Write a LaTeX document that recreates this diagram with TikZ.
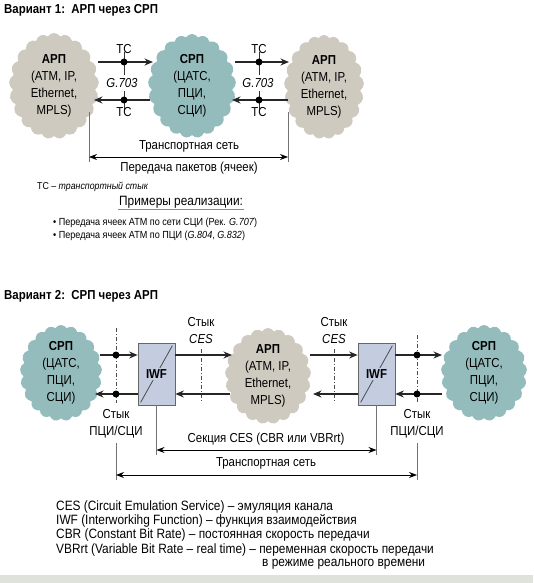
\documentclass[tikz,border=0pt]{standalone}
\usepackage{fontspec}
\setmainfont{Liberation Sans}[FakeStretch=0.88]
\usepackage{tikz}
\usetikzlibrary{arrows.meta,positioning,shapes.symbols}
\definecolor{cloudgrey}{RGB}{206,202,192}
\definecolor{cloudteal}{RGB}{148,188,188}
\definecolor{iwffill}{RGB}{196,204,224}
\definecolor{scanband}{RGB}{222,226,218}
\tikzset{
cloudnet/.style={cloud, cloud puffs=21, cloud puff arc=120, cloud ignores aspect, inner sep=0pt, align=center, font=\fontsize{13}{16.8}\selectfont},
greycloud/.style={cloudnet, fill=cloudgrey},
tealcloud/.style={cloudnet, fill=cloudteal},
link/.style={line width=1.2pt, draw=black!85, -{Stealth[length=8.5pt,width=7pt]}},
junction/.style={circle, fill=black, inner sep=0pt, minimum size=7pt},
tick/.style={line width=0.9pt, draw=black!80},
dashdot/.style={line width=0.8pt, draw=black!70, dash pattern=on 4pt off 2pt on 1pt off 2pt},
dimline/.style={line width=0.7pt, draw=black!55},
dimarrow/.style={line width=0.8pt, {Stealth[length=8pt,width=6pt]}-{Stealth[length=8pt,width=6pt]}},
iwfbox/.style={draw=black!60, line width=0.7pt, fill=iwffill, minimum width=37pt, minimum height=62pt},
lbl/.style={inner sep=1pt, font=\fontsize{13}{15}\selectfont},
heading/.style={inner sep=0pt, anchor=west, font=\fontsize{13}{15}\selectfont\bfseries},
caption/.style={inner sep=0pt, anchor=west, font=\fontsize{13.5}{15}\selectfont}
}
\begin{document}
\begin{tikzpicture}[x=1pt,y=-1pt]
\useasboundingbox (0,0) rectangle (533,583);
\fill[scanband] (0,575) rectangle (533,583);

% variant 1
\node[heading] (title1) at (4,10) {Вариант 1:\ \ АРП через СРП};

\node[greycloud, minimum width=90pt, minimum height=106pt] (arpL) at (54,86) {\textbf{АРП}\\(ATM, IP,\\Ethernet,\\MPLS)};
\node[tealcloud, minimum width=88pt, minimum height=104pt] (srpM) at (192,86) {\textbf{СРП}\\(ЦАТС,\\ПЦИ,\\СЦИ)};
\node[greycloud, minimum width=80pt, minimum height=104pt] (arpR) at (324,87) {\textbf{АРП}\\(ATM, IP,\\Ethernet,\\MPLS)};

\coordinate (tcLt) at (124,52);
\coordinate (tcLb) at (124,111);
\coordinate (tcRt) at (259,52);
\coordinate (tcRb) at (259,111);
\draw[tick] (tcLt) -- (tcLb);
\draw[tick] (tcRt) -- (tcRb);

\coordinate (fwd1s) at (98,62);
\coordinate (fwd1e) at (153,62);
\coordinate (bwd1s) at (150,100);
\coordinate (bwd1e) at (94,100);
\coordinate (fwd2s) at (235,62);
\coordinate (fwd2e) at (289,62);
\coordinate (bwd2s) at (288,100);
\coordinate (bwd2e) at (232,100);
\draw[link] (fwd1s) -- (fwd1e);
\draw[link] (bwd1s) -- (bwd1e);
\draw[link] (fwd2s) -- (fwd2e);
\draw[link] (bwd2s) -- (bwd2e);

\node[junction] (jL1) at (124,62) {};
\node[junction] (jL2) at (124,100) {};
\node[junction] (jR1) at (259,62) {};
\node[junction] (jR2) at (259,100) {};
\node[lbl, above=3pt of jL1] (tcL1) {ТС};
\node[lbl, below=3pt of jL2] (tcL2) {ТС};
\node[lbl, above=3pt of jR1] (tcR1) {ТС};
\node[lbl, below=3pt of jR2] (tcR2) {ТС};
\node[lbl, fill=white, inner sep=3pt] (g703L) at (122,83) {\textit{G.703}};
\node[lbl, fill=white, inner sep=3pt] (g703R) at (258,83) {\textit{G.703}};

\coordinate (trA1) at (89,112);
\coordinate (trA2) at (89,162);
\coordinate (trB1) at (288,112);
\coordinate (trB2) at (288,162);
\draw[dimline] (trA1) -- (trA2);
\draw[dimline] (trB1) -- (trB2);
\coordinate (trA) at (89,157);
\coordinate (trB) at (288,157);
\draw[dimarrow] (trA) -- (trB);
\node[lbl] (net1) at (189,146) {Транспортная сеть};
\node[lbl] (pkt) at (189,168) {Передача пакетов (ячеек)};

\node[inner sep=0pt, anchor=west, font=\fontsize{10}{12}\selectfont] (tcnote) at (37,187) {ТС – \textit{транспортный стык}};

\node[inner sep=1pt, anchor=west, font=\fontsize{13.5}{15}\selectfont] (examples) at (118,202) {Примеры реализации:};
\draw[black!45, line width=0.7pt] (examples.south west) -- (examples.south east);
\node[caption, font=\fontsize{10.3}{12}\selectfont] (ex1) at (53,223) {\textbullet\ Передача ячеек АТМ по сети СЦИ (Рек. \textit{G.707})};
\node[caption, font=\fontsize{10.3}{12}\selectfont] (ex2) at (53,235.5) {\textbullet\ Передача ячеек АТМ по ПЦИ (\textit{G.804}, \textit{G.832})};

% variant 2
\node[heading] (title2) at (4,296) {Вариант 2:\ \ СРП через АРП};

\node[tealcloud, minimum width=82pt, minimum height=96pt] (srpL) at (61,373) {\textbf{СРП}\\(ЦАТС,\\ПЦИ,\\СЦИ)};
\node[greycloud, minimum width=86pt, minimum height=96pt] (arpM) at (268,376) {\textbf{АРП}\\(ATM, IP,\\Ethernet,\\MPLS)};
\node[tealcloud, minimum width=86pt, minimum height=96pt] (srpR) at (484,373) {\textbf{СРП}\\(ЦАТС,\\ПЦИ,\\СЦИ)};

\node[iwfbox] (iwfL) at (156.5,374) {};
\node[iwfbox] (iwfR) at (376.5,374) {};
\draw[black!70, line width=0.8pt] ([shift={(3,-3)}]iwfL.south west) -- ([shift={(-3,3)}]iwfL.north east);
\draw[black!70, line width=0.8pt] ([shift={(3,-3)}]iwfR.south west) -- ([shift={(-3,3)}]iwfR.north east);
\node[fill=iwffill, inner sep=2pt, font=\fontsize{13}{15}\selectfont\bfseries] (iwfLtxt) at (iwfL) {IWF};
\node[fill=iwffill, inner sep=2pt, font=\fontsize{13}{15}\selectfont\bfseries] (iwfRtxt) at (iwfR) {IWF};

\coordinate (pdhLt) at (116,328);
\coordinate (pdhLb) at (116,403);
\coordinate (cesLt) at (201,349);
\coordinate (cesLb) at (201,403);
\coordinate (cesRt) at (334,349);
\coordinate (cesRb) at (334,403);
\coordinate (pdhRt) at (417,335);
\coordinate (pdhRb) at (417,403);
\draw[dashdot] (pdhLt) -- (pdhLb);
\draw[dashdot] (cesLt) -- (cesLb);
\draw[dashdot] (cesRt) -- (cesRb);
\draw[dashdot] (pdhRt) -- (pdhRb);

\coordinate (u1) at (100,355);
\coordinate (u2) at (232,355);
\coordinate (u3) at (310,355);
\coordinate (u4) at (442,355);
\coordinate (d1) at (95,394);
\coordinate (d2) at (230,394);
\coordinate (d3) at (313,394);
\coordinate (d4) at (442,394);
\draw[link] (u1) -- (iwfL.west |- u1);
\draw[link] (iwfL.east |- u2) -- (u2);
\draw[link] (u3) -- (iwfR.west |- u3);
\draw[link] (iwfR.east |- u4) -- (u4);
\draw[link] (iwfL.west |- d1) -- (d1);
\draw[link] (d2) -- (iwfL.east |- d2);
\draw[link] (iwfR.west |- d3) -- (d3);
\draw[link] (d4) -- (iwfR.east |- d4);

\node[junction] (pL1) at (116,355) {};
\node[junction] (pL2) at (116,394) {};
\node[junction] (pR1) at (417,355) {};
\node[junction] (pR2) at (417,394) {};

\node[lbl, align=center, font=\fontsize{13}{17}\selectfont] (cesL) at (201,331) {Стык\\\textit{CES}};
\node[lbl, align=center, font=\fontsize{13}{17}\selectfont] (cesR) at (334,331) {Стык\\\textit{CES}};
\node[lbl, align=center, font=\fontsize{13}{17}\selectfont] (stykL) at (116,424) {Стык\\ПЦИ/СЦИ};
\node[lbl, align=center, font=\fontsize{13}{17}\selectfont] (stykR) at (417,424) {Стык\\ПЦИ/СЦИ};

\coordinate (secA) at (156.5,455);
\coordinate (secB) at (376.5,455);
\draw[dimline] (iwfL.south) -- (secA);
\draw[dimline] (iwfR.south) -- (secB);
\coordinate (secAm) at (156.5,450);
\coordinate (secBm) at (376.5,450);
\draw[dimarrow] (secAm) -- (secBm);
\node[lbl] (section) at (266,439) {Секция CES (CBR или VBRrt)};

\coordinate (netA1) at (116,443);
\coordinate (netA2) at (116,480);
\coordinate (netB1) at (417,443);
\coordinate (netB2) at (417,480);
\draw[dimline] (netA1) -- (netA2);
\draw[dimline] (netB1) -- (netB2);
\coordinate (netA) at (116,475);
\coordinate (netB) at (417,475);
\draw[dimarrow] (netA) -- (netB);
\node[lbl] (net2) at (266,463) {Транспортная сеть};

% abbreviations
\node[caption] (abbr1) at (56,507) {CES (Circuit Emulation Service) – эмуляция канала};
\node[caption] (abbr2) at (56,521) {IWF (Interworkihg Function) – функция взаимодействия};
\node[caption] (abbr3) at (56,535.5) {CBR (Constant Bit Rate) – постоянная скорость передачи};
\node[caption] (abbr4) at (56,550) {VBRrt (Variable Bit Rate – real time) – переменная скорость передачи};
\node[caption] (abbr5) at (262,564) {в режиме реального времени};
\end{tikzpicture}
\end{document}
